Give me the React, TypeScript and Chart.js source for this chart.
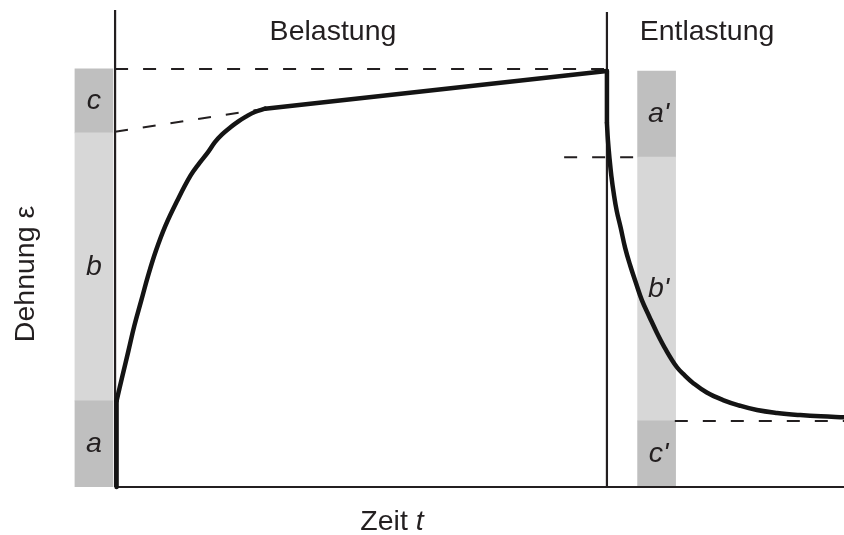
import React, { useEffect, useRef } from "react";
import { Chart, registerables } from "chart.js";

Chart.register(...registerables);

// ---- data (time t, strain ε in arbitrary units) ----
const loadTime = [
  0.03, 0.15, 0.27, 0.39, 0.53, 0.67, 0.83, 1.02, 1.26, 1.53, 1.71, 1.89, 2.03, 2.17, 2.34, 2.5,
  2.66, 2.84, 3.05,
];
const loadStrain = [
  2.06, 2.66, 3.25, 3.85, 4.45, 5.05, 5.65, 6.24, 6.84, 7.44, 7.74, 8.01, 8.25, 8.43, 8.6, 8.74,
  8.86, 8.97, 9.05,
];
const instantTime = [0.03, 0.03];
const instantStrain = [0, 2.06];
const creepTime = [3.05, 10];
const creepStrain = [9.05, 9.95];
const unloadTime = [10, 10];
const unloadStrain = [9.95, 8.71];
const recoveryTime = [
  10, 10.02, 10.05, 10.09, 10.14, 10.2, 10.28, 10.37, 10.47, 10.59, 10.71, 10.86, 11.02, 11.2,
  11.42, 11.58, 11.75, 12.03, 12.36, 12.69, 13.05, 13.46, 13.93, 14.35, 14.82,
];
const recoveryStrain = [
  8.71, 8.3, 7.89, 7.44, 7.01, 6.6, 6.2, 5.72, 5.31, 4.88, 4.47, 4.08, 3.68, 3.28, 2.87, 2.67,
  2.49, 2.26, 2.08, 1.95, 1.84, 1.77, 1.72, 1.69, 1.67,
];

const leftBarLabels = ["a", "b", "c"];
const leftBarRanges = [[0, 2.06], [2.06, 8.47], [8.47, 10]];
const rightBarLabels = ["c'", "b'", "a'"];
const rightBarRanges = [[0, 1.58], [1.58, 7.89], [7.89, 9.95]];

const dashTopTime = [0, 10];
const dashTopStrain = [10, 10];
const dashExtTime = [0, 3.05];
const dashExtStrain = [8.5, 9.05];
const dashMidTime = [9.13, 10.62];
const dashMidStrain = [7.89, 7.89];
const dashLowTime = [11.38, 14.82];
const dashLowStrain = [1.58, 1.58];

const unloadAt = 10;
const X_MIN = -1.12;
const X_MAX = 14.82;
const Y_MAX = 11.41;

const sectionTitles = ["Belastung", "Entlastung"];
const xTitle = ["Zeit ", "t"];
const yTitle = "Dehnung ε";

// ---- styles / positions ----
const LEFT_BAR_X = -0.43;
const RIGHT_BAR_X = 11.01;
const DARK = "#bfbfbf";
const LIGHT = "#d7d7d7";
const INK = "#231f20";
const CURVE = "#141414";
const FONT = "'Liberation Sans', Arial, Helvetica, sans-serif";
const FS = 28.5;

const pts = (xs: number[], ys: number[]) => xs.map((x, i) => ({ x, y: ys[i] }));

export default function App() {
  const ref = useRef<HTMLCanvasElement | null>(null);

  useEffect(() => {
    document.body.style.margin = "0";
    const canvas = ref.current;
    if (!canvas) return;

    const lineDs = (data: any[], opts: any = {}) => ({
      type: "line",
      data,
      borderColor: CURVE,
      borderWidth: 4.5,
      pointRadius: 0,
      tension: 0,
      fill: false,
      clip: false,
      borderCapStyle: "round",
      borderJoinStyle: "round",
      order: 0,
      ...opts,
    });
    const axisDs = (data: any[]) =>
      lineDs(data, { borderColor: INK, borderWidth: 2.2, borderCapStyle: "butt", order: 1 });
    const dashDs = (data: any[]) =>
      lineDs(data, { borderColor: INK, borderWidth: 2, borderDash: [13, 15], borderCapStyle: "butt", order: 1 });

    const barDs = (x: number, range: number[], color: string) => ({
      type: "bar",
      data: [{ x, y: range }],
      backgroundColor: color,
      borderWidth: 0,
      barThickness: 38,
      grouped: false,
      order: 10,
    });

    const barColors = [DARK, LIGHT, DARK];

    const textPlugin = {
      id: "textPlugin",
      afterDatasetsDraw(chart: any) {
        const { ctx, scales } = chart;
        const xs = scales.x;
        const ys = scales.y;
        ctx.save();
        ctx.fillStyle = INK;
        ctx.textAlign = "center";
        ctx.textBaseline = "middle";
        ctx.font = `italic ${FS}px ${FONT}`;
        leftBarLabels.forEach((lab, i) => {
          const [lo, hi] = leftBarRanges[i];
          ctx.fillText(lab, xs.getPixelForValue(LEFT_BAR_X), ys.getPixelForValue((lo + hi) / 2));
        });
        rightBarLabels.forEach((lab, i) => {
          const [lo, hi] = rightBarRanges[i];
          ctx.fillText(lab, xs.getPixelForValue(RIGHT_BAR_X) + 2, ys.getPixelForValue((lo + hi) / 2));
        });

        ctx.textBaseline = "alphabetic";
        ctx.font = `${FS}px ${FONT}`;
        ctx.fillText(sectionTitles[0], 333, 40);
        ctx.fillText(sectionTitles[1], 707, 40);

        // x title: "Zeit " regular + "t" italic
        const regular = `${FS}px ${FONT}`;
        const italic = `italic ${FS}px ${FONT}`;
        ctx.font = regular;
        const w1 = ctx.measureText(xTitle[0]).width;
        ctx.font = italic;
        const w2 = ctx.measureText(xTitle[1]).width;
        const start = 392 - (w1 + w2) / 2;
        ctx.textAlign = "left";
        ctx.font = regular;
        ctx.fillText(xTitle[0], start, 530);
        ctx.font = italic;
        ctx.fillText(xTitle[1], start + w1, 530);

        // y title rotated
        ctx.translate(34, 274);
        ctx.rotate(-Math.PI / 2);
        ctx.textAlign = "center";
        ctx.font = regular;
        ctx.fillText(yTitle, 0, 0);
        ctx.restore();
      },
    };

    const chart = new Chart(canvas, {
      type: "scatter",
      data: {
        datasets: [
          ...leftBarRanges.map((r, i) => barDs(LEFT_BAR_X, r, barColors[i])),
          ...rightBarRanges.map((r, i) => barDs(RIGHT_BAR_X, r, barColors[i])),
          axisDs(pts([0, 0], [0, Y_MAX])),
          axisDs(pts([0, X_MAX], [0, 0])),
          axisDs(pts([unloadAt, unloadAt], [0, Y_MAX - 0.05])),
          dashDs(pts(dashTopTime, dashTopStrain)),
          dashDs(pts(dashExtTime, dashExtStrain)),
          dashDs(pts(dashMidTime, dashMidStrain)),
          dashDs(pts(dashLowTime, dashLowStrain)),
          lineDs(pts(instantTime, instantStrain)),
          lineDs(pts(loadTime, loadStrain), { tension: 0.4 }),
          lineDs(pts(creepTime, creepStrain)),
          lineDs(pts(unloadTime, unloadStrain)),
          lineDs(pts(recoveryTime, recoveryStrain), { tension: 0.4 }),
        ] as any,
      },
      options: {
        animation: false,
        responsive: false,
        devicePixelRatio: 1,
        layout: { padding: { left: 60, right: 0, top: 10, bottom: 48 } },
        plugins: { legend: { display: false }, tooltip: { enabled: false } },
        scales: {
          x: { type: "linear", display: false, offset: false, min: X_MIN, max: X_MAX },
          y: { type: "linear", display: false, min: 0, max: Y_MAX },
        },
      } as any,
      plugins: [textPlugin],
    });

    return () => chart.destroy();
  }, []);

  return (
    <div style={{ width: 844, height: 535, background: "#fff" }}>
      <canvas ref={ref} width={844} height={535} style={{ display: "block" }} />
    </div>
  );
}
